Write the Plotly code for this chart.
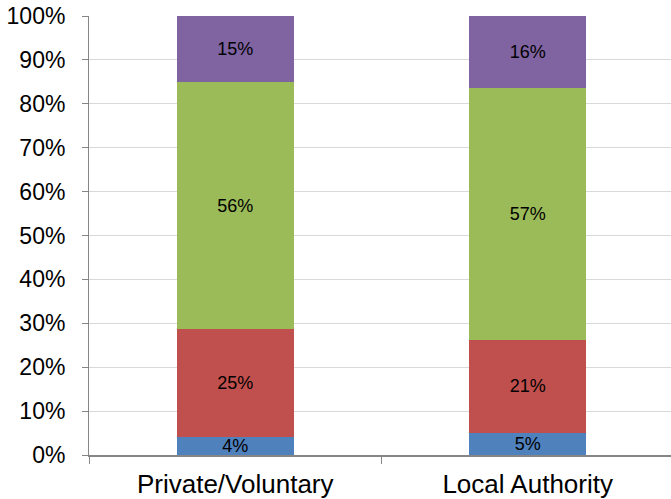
import plotly.graph_objects as go

categories = ["Private/Voluntary", "Local Authority"]
series_names = ["Series 1", "Series 2", "Series 3", "Series 4"]
series_1 = [4.1, 5.0]
series_2 = [24.5, 21.3]
series_3 = [56.4, 57.3]
series_4 = [15.0, 16.4]
colors = ["#4F81BD", "#C0504D", "#9BBB59", "#8064A2"]
y_ticks = list(range(0, 101, 10))
y_tick_labels = [f"{v}%" for v in y_ticks]

fig = go.Figure()
for name, vals, col in zip(series_names, [series_1, series_2, series_3, series_4], colors):
    fig.add_trace(go.Bar(
        x=categories, y=vals, name=name,
        marker=dict(color=col, line=dict(width=0)),
        width=0.4,
        texttemplate="%{y:.0f}%", textposition="inside", insidetextanchor="middle",
        textangle=0, constraintext="none",
        textfont=dict(family="Liberation Sans, Arial", size=18, color="#000000"),
    ))

fig.update_layout(
    barmode="stack",
    width=671, height=499,
    margin=dict(l=89, r=0, t=16, b=44, autoexpand=False),
    paper_bgcolor="white", plot_bgcolor="white",
    showlegend=False,
    font=dict(family="Liberation Sans, Arial", color="#000000"),
)
fig.update_yaxes(
    range=[0, 100], tickvals=y_ticks, ticktext=y_tick_labels,
    showgrid=True, gridcolor="#D9D9D9", gridwidth=1,
    showline=True, linecolor="#868686", linewidth=1,
    ticks="outside", ticklen=6, tickcolor="#868686",
    tickfont=dict(size=23, color="#000000"),
    ticklabelstandoff=12,
    zeroline=False, automargin=False,
)
fig.update_xaxes(
    range=[-0.5, 1.49],
    showline=True, linecolor="#868686", linewidth=2,
    ticks="outside", ticklen=7, tickcolor="#868686", tickson="boundaries",
    tickfont=dict(size=26, color="#000000"),
    ticklabelstandoff=5,
    showgrid=False, automargin=False,
)

fig.write_html("out.html", config={"displayModeBar": False},
               post_script="document.body.style.margin='0';")
